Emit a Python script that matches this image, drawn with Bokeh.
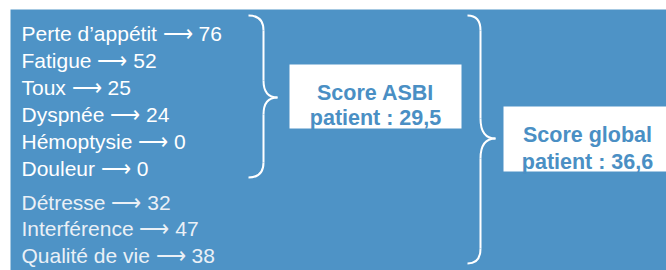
from bokeh.plotting import figure
from bokeh.models import Range1d, ColumnDataSource
from bokeh.core.properties import value
from bokeh.embed import file_html
from bokeh.resources import INLINE

# ---- data ----
symptoms = ["Perte d’appétit", "Fatigue", "Toux", "Dyspnée", "Hémoptysie", "Douleur"]
symptom_scores = [76, 52, 25, 24, 0, 0]
impacts = ["Détresse", "Interférence", "Qualité de vie"]
impact_scores = [32, 47, 38]
asbi_title = "Score ASBI"
asbi_score = 29.5
global_title = "Score global"
global_score = 36.6

# ---- style ----
BLUE = "#4e93c6"
BOX_TEXT = "#4a8fc4"
WHITE = "#ffffff"
DIM = "#eaf0f6"
FONT = "Liberation Sans"
ARROW = "⟶"

W, H = 666, 270

p = figure(width=W, height=H, x_range=Range1d(0, W), y_range=Range1d(H, 0),
           output_backend="svg", toolbar_location=None, min_border=0,
           x_axis_location=None, y_axis_location=None)
p.grid.visible = False
p.outline_line_color = None
p.background_fill_color = WHITE
p.border_fill_color = WHITE

# blue panel
p.quad(left=[10], right=[680], top=[9], bottom=[280], fill_color=BLUE, line_color=None)


def fmt(v):
    return f"{v:.1f}".replace(".", ",")


# left list
left_x = 21
rows1 = [f"{s} {ARROW} {v}" for s, v in zip(symptoms, symptom_scores)]
rows2 = [f"{s} {ARROW} {v}" for s, v in zip(impacts, impact_scores)]
y1 = [33.3 + 27.0 * i for i in range(len(rows1))]
y2 = [201.5 + 26.7 * i for i in range(len(rows2))]

p.text(x=[left_x] * len(rows1), y=y1, text=rows1, text_color=WHITE,
       text_font=value(FONT), text_font_size="21px", text_baseline="alphabetic", text_align="left")
p.text(x=[left_x] * len(rows2), y=y2, text=rows2, text_color=DIM,
       text_font=value(FONT), text_font_size="21px", text_baseline="alphabetic", text_align="left")


# braces
def brace(x0, yt, yb, ytip, h, d, r_end, r_mid):
    xv = x0 + h
    xt = xv + d
    p.quadratic(x0=[x0, xv, xt, xv], y0=[yt, ytip - r_mid, ytip, yb - r_end],
                x1=[xv, xt, xv, x0], y1=[yt + r_end, ytip, ytip + r_mid, yb],
                cx=[xv, xv, xv, xv], cy=[yt, ytip, ytip, yb],
                line_color=WHITE, line_width=2)
    p.segment(x0=[xv, xv], y0=[yt + r_end, ytip + r_mid], x1=[xv, xv], y1=[ytip - r_mid, yb - r_end],
              line_color=WHITE, line_width=2)


brace(248, 15, 177, 97, 15, 14, 15, 17)
brace(467, 15, 263, 138, 13, 15, 15, 20)

# boxes
p.quad(left=[289, 503], right=[461, 680], top=[64, 106], bottom=[128, 171],
       fill_color=WHITE, line_color=None)

box_src = ColumnDataSource(dict(
    x=[375, 375, 587, 587],
    y=[92.5, 117.5, 134.5, 161.5],
    t=[asbi_title, f"patient : {fmt(asbi_score)}", global_title, f"patient : {fmt(global_score)}"],
))
p.text(x="x", y="y", text="t", source=box_src, text_color=BOX_TEXT, text_font=value(FONT),
       text_font_size="21.5px", text_font_style="bold", text_align="center", text_baseline="alphabetic")

open("out.html", "w").write(file_html(p, INLINE))
